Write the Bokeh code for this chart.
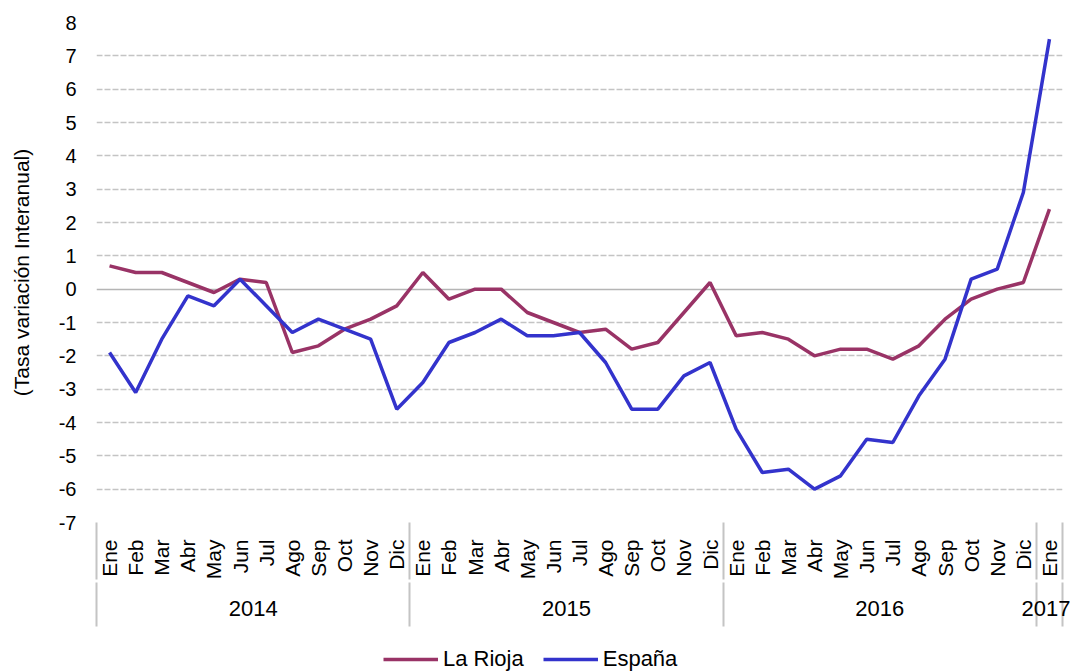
import math
from bokeh.plotting import figure
from bokeh.layouts import column
from bokeh.models import Range1d, FixedTicker, LinearAxis, Grid, Legend, LegendItem
from bokeh.embed import file_html
from bokeh.resources import INLINE

# ---- data ----
months = ["Ene", "Feb", "Mar", "Abr", "May", "Jun", "Jul", "Ago", "Sep", "Oct", "Nov", "Dic"] * 3 + ["Ene"]
years = ["2014", "2015", "2016", "2017"]
year_lengths = [12, 12, 12, 1]
y_ticks = list(range(-7, 9))

rioja = [0.7, 0.5, 0.5, 0.2, -0.1, 0.3, 0.2, -1.9, -1.7, -1.2, -0.9, -0.5,
         0.5, -0.3, 0.0, 0.0, -0.7, -1.0, -1.3, -1.2, -1.8, -1.6, -0.7, 0.2,
         -1.4, -1.3, -1.5, -2.0, -1.8, -1.8, -2.1, -1.7, -0.9, -0.3, 0.0, 0.2,
         2.4]
espana = [-1.9, -3.1, -1.5, -0.2, -0.5, 0.3, -0.5, -1.3, -0.9, -1.2, -1.5, -3.6,
          -2.8, -1.6, -1.3, -0.9, -1.4, -1.4, -1.3, -2.2, -3.6, -3.6, -2.6, -2.2,
          -4.2, -5.5, -5.4, -6.0, -5.6, -4.5, -4.6, -3.2, -2.1, 0.3, 0.6, 2.9,
          7.5]

series_names = ["La Rioja", "España"]
series_colors = ["#993366", "#3333CC"]
series_values = [rioja, espana]

FONT = "Liberation Sans"
SEP = "#C4C4C4"

n = len(months)
x = [i + 0.5 for i in range(n)]
bounds = [0]
for L in year_lengths:
    bounds.append(bounds[-1] + L)
year_centers = [(bounds[i] + bounds[i + 1]) / 2 for i in range(len(years))]

p = figure(width=1070, height=640, output_backend="svg", toolbar_location=None,
           x_range=Range1d(0, n), y_range=Range1d(y_ticks[0], y_ticks[-1]),
           min_border_left=96, min_border_right=8, min_border_top=22, min_border_bottom=118,
           outline_line_color=None, background_fill_color="white", border_fill_color="white")

# grids
p.xgrid.visible = False
g = p.ygrid[0]
g.ticker = FixedTicker(ticks=[t for t in y_ticks if t not in (0, y_ticks[0], y_ticks[-1])])
g.grid_line_color = "#C4C4C4"
g.grid_line_dash = "6 2"
g.grid_line_width = 1.5
p.add_layout(Grid(dimension=1, ticker=FixedTicker(ticks=[y_ticks[0], y_ticks[-1]]),
                  grid_line_color="#E4E4E4", grid_line_dash="6 2", grid_line_width=1.5))
p.add_layout(Grid(dimension=1, ticker=FixedTicker(ticks=[0]),
                  grid_line_color="#B5B5B5", grid_line_width=1.6))

# y axis
ya = p.yaxis[0]
ya.ticker = FixedTicker(ticks=y_ticks)
ya.major_label_overrides = {t: str(t) for t in y_ticks}
ya.major_label_text_font = FONT
ya.major_label_text_font_size = "20px"
ya.major_label_text_color = "black"
ya.major_tick_out = 0
ya.major_tick_in = 0
ya.minor_tick_line_color = None
ya.axis_line_color = None
ya.major_label_standoff = 20
ya.axis_label = "(Tasa variación Interanual)"
ya.axis_label_text_font = FONT
ya.axis_label_text_font_size = "21px"
ya.axis_label_text_font_style = "normal"
ya.axis_label_text_color = "black"
ya.axis_label_standoff = 23

# month axis (year separators = minor ticks through the label band)
xa = p.xaxis[0]
xa.ticker = FixedTicker(ticks=x, minor_ticks=bounds)
xa.major_label_overrides = {xi: m for xi, m in zip(x, months)}
xa.major_label_orientation = math.pi / 2
xa.major_label_text_font = FONT
xa.major_label_text_font_size = "21px"
xa.major_label_text_color = "black"
xa.major_label_standoff = -40
xa.major_tick_out = 0
xa.major_tick_in = 0
xa.minor_tick_in = 0
xa.minor_tick_out = 57
xa.minor_tick_line_color = SEP
xa.minor_tick_line_width = 2
xa.axis_line_color = None

# year axis
yr = LinearAxis(ticker=FixedTicker(ticks=year_centers, minor_ticks=bounds),
                major_label_overrides={c: y for c, y in zip(year_centers, years)},
                major_label_text_font=FONT, major_label_text_font_size="22px",
                major_label_text_color="black", major_label_standoff=-26,
                major_tick_out=0, major_tick_in=0, minor_tick_in=0, minor_tick_out=44,
                minor_tick_line_color=SEP, minor_tick_line_width=2,
                axis_line_color=None)
p.add_layout(yr, "below")

# lines
for vals, col in zip(series_values, series_colors):
    p.line(x, vals, line_color=col, line_width=3.5)

# ---- legend strip ----
lg = figure(width=1070, height=32, output_backend="svg", toolbar_location=None,
            x_range=Range1d(0, 1), y_range=Range1d(0, 1),
            min_border_left=0, min_border_right=0, min_border_top=0, min_border_bottom=0,
            outline_line_color=None, background_fill_color="white", border_fill_color="white",
            x_axis_type=None, y_axis_type=None)
lg.grid.visible = False
items = []
for nm, col, vals in zip(series_names, series_colors, series_values):
    # single-point line: draws nothing in the strip, only supplies the legend swatch
    r = lg.line(x[:1], vals[:1], line_color=col, line_width=3.5)
    items.append(LegendItem(label=nm, renderers=[r]))
legend = Legend(items=items, orientation="horizontal", location=(287, 0),
                label_text_font=FONT, label_text_font_size="22px", label_text_color="black",
                glyph_width=55, glyph_height=20, label_standoff=5, spacing=19,
                padding=0, margin=0, border_line_color=None, background_fill_alpha=0)
lg.add_layout(legend, "center")

open("out.html", "w").write(file_html(column(p, lg, spacing=0), INLINE))
